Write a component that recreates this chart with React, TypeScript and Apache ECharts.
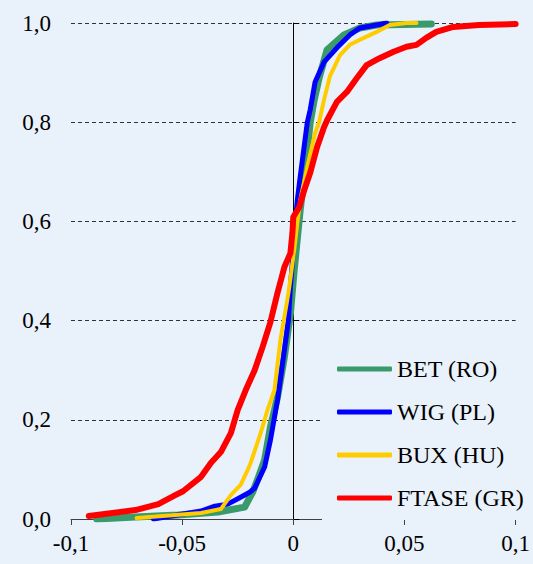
import React, { useEffect, useRef } from "react";
import * as echarts from "echarts";

const seriesNames = ["BET (RO)", "WIG (PL)", "BUX (HU)", "FTASE (GR)"];
const seriesColors = ["#3A9A6B", "#0000FF", "#FFCC00", "#FF0000"];
const seriesWidths = [7, 5, 4, 6];

const betData: [number, number][] = [
  [-0.0884, 0.0], [-0.071, 0.004], [-0.0518, 0.008], [-0.0339, 0.014], [-0.0219, 0.024],
  [-0.0183, 0.054], [-0.0161, 0.079], [-0.0129, 0.119], [-0.0103, 0.185], [-0.0071, 0.246],
  [-0.004, 0.327], [-0.0013, 0.415], [0.0004, 0.502], [0.0031, 0.623], [0.0058, 0.724],
  [0.0076, 0.8], [0.0094, 0.845], [0.0116, 0.889], [0.0152, 0.946], [0.0228, 0.976],
  [0.0299, 0.99], [0.0375, 0.996], [0.0621, 0.998],
];

const wigData: [number, number][] = [
  [-0.0629, 0.0], [-0.0415, 0.016], [-0.0353, 0.026], [-0.0295, 0.03], [-0.0237, 0.044],
  [-0.0196, 0.054], [-0.0174, 0.062], [-0.0129, 0.105], [-0.0103, 0.159], [-0.0071, 0.24],
  [-0.004, 0.341], [-0.0022, 0.401], [-0.0013, 0.468], [0.0, 0.542], [0.0009, 0.599],
  [0.0018, 0.643], [0.0031, 0.69], [0.0063, 0.8], [0.0076, 0.825], [0.0098, 0.881],
  [0.0138, 0.921], [0.0196, 0.95], [0.0254, 0.976], [0.0299, 0.99], [0.0375, 0.996],
  [0.042, 1.0],
];

const buxData: [number, number][] = [
  [-0.0705, 0.002], [-0.0415, 0.012], [-0.0326, 0.02], [-0.0281, 0.048], [-0.0237, 0.069],
  [-0.0205, 0.099], [-0.0192, 0.113], [-0.0147, 0.173], [-0.0116, 0.22], [-0.0085, 0.26],
  [-0.0058, 0.361], [-0.0027, 0.442], [-0.0018, 0.468], [0.0004, 0.542], [0.0018, 0.597],
  [0.0031, 0.643], [0.0063, 0.71], [0.0098, 0.778], [0.0116, 0.8], [0.0138, 0.845],
  [0.0165, 0.893], [0.021, 0.935], [0.0254, 0.956], [0.0317, 0.97], [0.0375, 0.982],
  [0.0433, 0.996], [0.0509, 1.0], [0.0554, 1.0],
];

const ftaseData: [number, number][] = [
  [-0.092, 0.006], [-0.071, 0.018], [-0.0607, 0.03], [-0.0531, 0.048], [-0.0496, 0.056],
  [-0.0415, 0.085], [-0.0371, 0.113], [-0.0326, 0.135], [-0.0281, 0.173], [-0.025, 0.22],
  [-0.0214, 0.26], [-0.0174, 0.3], [-0.0138, 0.347], [-0.0103, 0.397], [-0.0071, 0.456],
  [-0.004, 0.508], [-0.0013, 0.536], [-0.0004, 0.577], [0.0, 0.609], [0.0027, 0.629],
  [0.0049, 0.663], [0.0076, 0.698], [0.0107, 0.75], [0.0138, 0.79], [0.0152, 0.804],
  [0.0196, 0.841], [0.0241, 0.861], [0.0286, 0.889], [0.033, 0.915], [0.0388, 0.929],
  [0.0451, 0.942], [0.0509, 0.952], [0.0554, 0.956], [0.0598, 0.97], [0.0643, 0.982],
  [0.0719, 0.992], [0.0835, 0.996], [0.1, 0.998],
];

const allData = [betData, wigData, buxData, ftaseData];

const xMin = -0.1;
const xMax = 0.1;
const xStep = 0.05;
const yMin = 0;
const yMax = 1;
const yStep = 0.2;

const BG = "#E9F1FA";
const FONT = "Liberation Serif";

const fmtX = (v: number) => String(parseFloat(v.toFixed(2))).replace(".", ",");
const fmtY = (v: number) => v.toFixed(1).replace(".", ",");

export default function App() {
  const ref = useRef<HTMLDivElement>(null);
  useEffect(() => {
    if (!ref.current) return;
    const chart = echarts.init(ref.current, undefined, { renderer: "svg" });
    chart.setOption({
      animation: false,
      backgroundColor: BG,
      grid: { left: 71, right: 14, top: 23, bottom: 45 },
      xAxis: {
        type: "value",
        min: xMin,
        max: xMax,
        interval: xStep,
        axisLine: { show: true, onZero: false, lineStyle: { color: "#404040", width: 1 } },
        axisTick: { show: true, inside: false, length: 6, lineStyle: { color: "#404040" } },
        axisLabel: {
          formatter: (v: number) => fmtX(v),
          color: "#000",
          fontFamily: FONT,
          fontSize: 23,
          margin: 13,
        },
        splitLine: { show: false },
      },
      yAxis: [
        {
          type: "value",
          min: yMin,
          max: yMax,
          interval: yStep,
          position: "left",
          axisLine: { show: false, onZero: false },
          axisTick: { show: false },
          axisLabel: {
            formatter: (v: number) => fmtY(v),
            color: "#000",
            fontFamily: FONT,
            fontSize: 23,
            margin: 20,
          },
          splitLine: { show: true, lineStyle: { color: "#333", type: [4, 3], width: 1 } },
        },
        {
          type: "value",
          min: yMin,
          max: yMax,
          interval: yStep,
          position: "left",
          axisLine: { show: true, onZero: true, lineStyle: { color: "#000", width: 1 } },
          axisTick: { show: true, inside: true, length: 6, lineStyle: { color: "#000" } },
          axisLabel: { show: false },
          splitLine: { show: false },
        },
      ],
      legend: {
        orient: "vertical",
        left: 322,
        top: 347,
        padding: [10, 10, 10, 15],
        backgroundColor: BG,
        icon: "roundRect",
        itemWidth: 55,
        itemHeight: 5,
        itemGap: 19,
        data: seriesNames,
        textStyle: { color: "#000", fontFamily: FONT, fontSize: 24, lineHeight: 20 },
      },
      series: allData.map((d, i) => ({
        name: seriesNames[i],
        type: "line",
        data: d,
        symbol: "none",
        showSymbol: false,
        color: seriesColors[i],
        itemStyle: { color: seriesColors[i] },
        lineStyle: { width: seriesWidths[i], color: seriesColors[i], join: "round", cap: "round" },
        z: 2 + i,
      })),
    });
    return () => chart.dispose();
  }, []);
  return (
    <div
      ref={ref}
      style={{ position: "fixed", left: 0, top: 0, width: 533, height: 564 }}
    />
  );
}
